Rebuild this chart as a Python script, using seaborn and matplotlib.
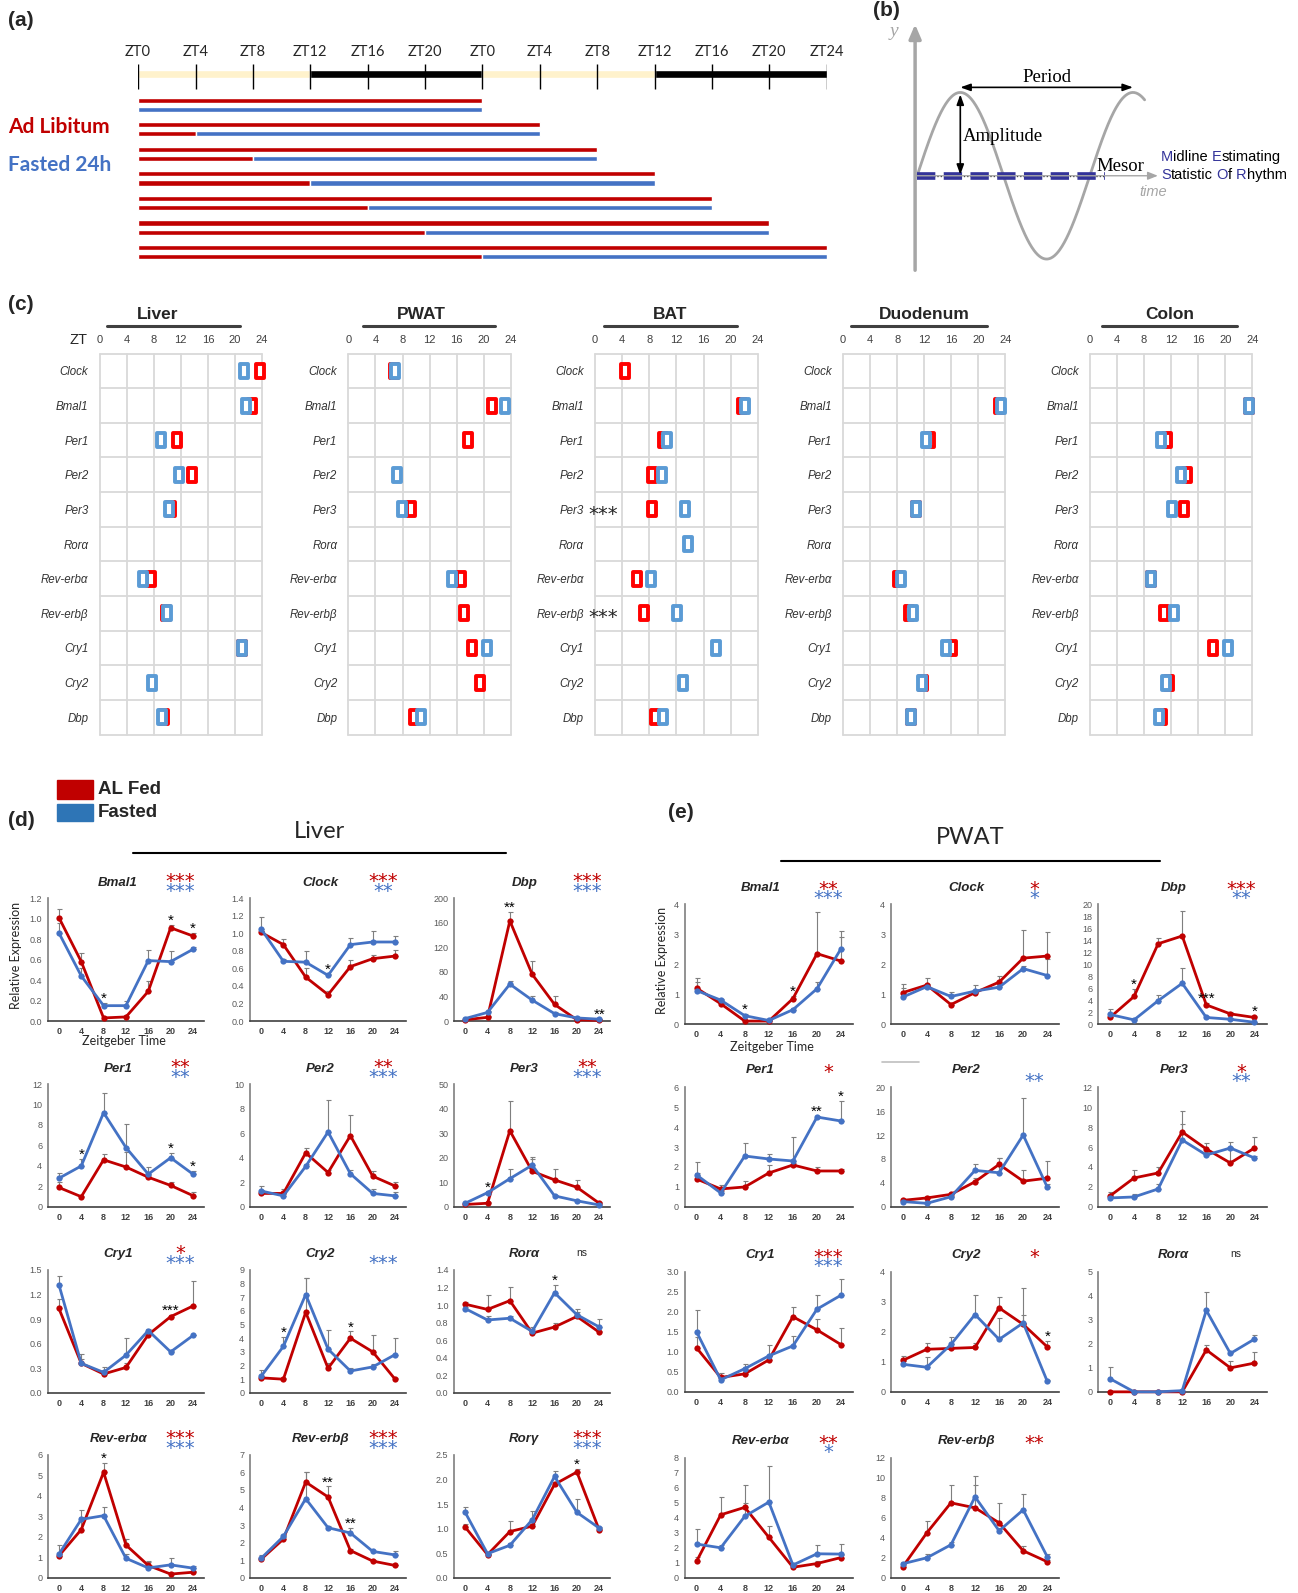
import numpy as np
import pandas as pd
import matplotlib
matplotlib.use('Agg')
import matplotlib.pyplot as plt
import seaborn as sns
from matplotlib.patches import Rectangle
from matplotlib.lines import Line2D
from matplotlib.path import Path
from matplotlib.offsetbox import TextArea, HPacker, AnnotationBbox, DrawingArea

sns.set_theme(style='white')
plt.rcParams['font.family'] = ['Liberation Sans', 'DejaVu Sans']
plt.rcParams['axes.unicode_minus'] = False

nan = np.nan
ZT = [0, 4, 8, 12, 16, 20, 24]

# ---------------- panel (a) data ----------------
A_TICK_HOURS = list(range(0, 49, 4))
A_TICK_LABELS = ['ZT0', 'ZT4', 'ZT8', 'ZT12', 'ZT16', 'ZT20', 'ZT0',
                 'ZT4', 'ZT8', 'ZT12', 'ZT16', 'ZT20', 'ZT24']
A_LD_START = [0, 12, 24, 36]
A_LD_LEN = [12, 12, 12, 12]
A_LD_DARK = [False, True, False, True]
A_FAST_START = [0, 4, 8, 12, 16, 20, 24]
A_COLLECT_END = [24, 28, 32, 36, 40, 44, 48]

# ---------------- panel (c) data (acrophase, ZT) ----------------
C_GENES = ['Clock', 'Bmal1', 'Per1', 'Per2', 'Per3', 'Rorα', 'Rev-erbα',
           'Rev-erbβ', 'Cry1', 'Cry2', 'Dbp']
C_TISSUES = ['Liver', 'PWAT', 'BAT', 'Duodenum', 'Colon']
C_LIVER_AL = [23.75, 22.5, 11.4, 13.65, 10.6, nan, 7.6, 9.85, 21.0, nan, 9.45]
C_LIVER_FAST = [21.3, 21.7, 9.1, 11.7, 10.3, nan, 6.45, 9.95, 21.1, 7.8, 9.2]
C_PWAT_AL = [6.7, 21.2, 17.6, nan, 9.2, nan, 16.7, 17.1, 18.2, 19.4, 9.75]
C_PWAT_FAST = [6.9, 23.1, nan, 7.25, 7.9, nan, 15.3, nan, 20.45, nan, 10.8]
C_BAT_AL = [4.4, 21.7, 9.95, 8.4, 8.35, nan, 6.2, 7.25, nan, nan, 8.85]
C_BAT_FAST = [nan, 22.2, 10.6, 9.8, 13.2, 13.7, 8.2, 12.15, 17.9, 12.9, 10.0]
C_DUOD_AL = [nan, 23.1, 12.9, nan, 10.8, nan, 8.1, 9.7, 16.1, 11.8, 10.0]
C_DUOD_FAST = [nan, 23.4, 12.2, nan, 10.85, nan, 8.6, 10.4, 15.2, 11.7, 10.0]
C_COLON_AL = [nan, 23.5, 11.4, 14.4, 13.9, nan, 9.1, 11.0, 18.2, 11.7, 10.6]
C_COLON_FAST = [nan, 23.5, 10.5, 13.5, 12.2, nan, 9.1, 12.5, 20.4, 11.3, 10.2]
C_BAT_FLAGS = ['', '', '', '', '***', '', '', '***', '', '', '']

# ---------------- panel (d) Liver data ----------------
LIVER_AL = {
    'Bmal1': [1.01, 0.58, 0.03, 0.04, 0.29, 0.91, 0.83],
    'Clock': [1.01, 0.87, 0.50, 0.30, 0.62, 0.71, 0.74],
    'Dbp': [2, 6, 163, 76, 27, 2, 1],
    'Per1': [1.9, 1.0, 4.6, 3.9, 2.9, 2.1, 1.1],
    'Per2': [1.1, 1.1, 4.4, 2.8, 5.8, 2.5, 1.7],
    'Per3': [1.0, 1.5, 31, 14.5, 11, 8, 1.5],
    'Cry1': [1.03, 0.36, 0.23, 0.31, 0.71, 0.93, 1.06],
    'Cry2': [1.1, 1.0, 5.9, 1.8, 4.0, 3.0, 1.0],
    'Rorα': [1.01, 0.95, 1.05, 0.68, 0.75, 0.87, 0.69],
    'Rev-erbα': [1.07, 2.35, 5.15, 1.6, 0.6, 0.18, 0.27],
    'Rev-erbβ': [1.05, 2.2, 5.45, 4.6, 1.55, 0.95, 0.7],
    'Rorγ': [1.03, 0.47, 0.94, 1.05, 1.90, 2.15, 0.97],
}
LIVER_FAST = {
    'Bmal1': [0.86, 0.44, 0.15, 0.15, 0.59, 0.58, 0.70],
    'Clock': [1.05, 0.68, 0.67, 0.52, 0.87, 0.90, 0.90],
    'Dbp': [4, 14, 60, 34, 12, 5, 3],
    'Per1': [2.8, 4.0, 9.2, 5.8, 3.2, 4.8, 3.2],
    'Per2': [1.3, 0.9, 3.3, 6.1, 2.7, 1.1, 0.9],
    'Per3': [1.5, 5.8, 11.5, 17, 4.5, 2.5, 0.8],
    'Cry1': [1.32, 0.36, 0.25, 0.46, 0.76, 0.50, 0.70],
    'Cry2': [1.2, 3.4, 7.2, 3.2, 1.6, 1.9, 2.8],
    'Rorα': [0.96, 0.83, 0.85, 0.70, 1.14, 0.89, 0.75],
    'Rev-erbα': [1.15, 2.85, 3.03, 0.95, 0.48, 0.63, 0.47],
    'Rev-erbβ': [1.1, 2.35, 4.5, 2.85, 2.55, 1.5, 1.3],
    'Rorγ': [1.33, 0.49, 0.66, 1.18, 2.06, 1.33, 1.01],
}
LIVER_AL_SEM = {
    'Bmal1': [0.08, 0.08, 0.01, 0.01, 0.10, 0.03, 0.03],
    'Clock': [0.02, 0.06, 0.10, 0.04, 0.07, 0.04, 0.07],
    'Dbp': [1, 2, 15, 22, 14, 1, 1],
    'Per1': [0.5, 0.1, 0.6, 1.5, 0.2, 0.3, 0.4],
    'Per2': [0.3, 0.4, 0.4, 0.2, 1.7, 0.4, 0.3],
    'Per3': [0.5, 0.5, 12, 5, 4.5, 3, 0.5],
    'Cry1': [0.12, 0.05, 0.02, 0.05, 0.02, 0.02, 0.31],
    'Cry2': [0.1, 0.1, 2.5, 0.4, 0.5, 1.2, 0.1],
    'Rorα': [0.03, 0.16, 0.16, 0.05, 0.05, 0.05, 0.02],
    'Rev-erbα': [0.1, 0.6, 0.45, 0.3, 0.2, 0.05, 0.05],
    'Rev-erbβ': [0.1, 0.1, 0.6, 0.6, 0.1, 0.05, 0.05],
    'Rorγ': [0.07, 0.02, 0.22, 0.05, 0.05, 0.07, 0.02],
}
LIVER_FAST_SEM = {
    'Bmal1': [0.10, 0.08, 0.03, 0.05, 0.10, 0.10, 0.02],
    'Clock': [0.14, 0.03, 0.13, 0.02, 0.07, 0.13, 0.07],
    'Dbp': [1, 2, 5, 7, 2, 1, 1],
    'Per1': [0.5, 0.7, 1.9, 2.3, 0.7, 0.5, 0.3],
    'Per2': [0.4, 0.2, 0.2, 2.6, 0.3, 0.4, 0.3],
    'Per3': [0.5, 0.5, 4, 3.5, 0.5, 0.5, 0.3],
    'Cry1': [0.10, 0.12, 0.06, 0.21, 0.02, 0.01, 0.01],
    'Cry2': [0.5, 0.7, 1.2, 1.4, 0.2, 0.2, 1.2],
    'Rorα': [0.02, 0.05, 0.03, 0.05, 0.09, 0.07, 0.09],
    'Rev-erbα': [0.45, 0.45, 0.4, 0.2, 0.3, 0.35, 0.1],
    'Rev-erbβ': [0.2, 0.1, 1.5, 0.1, 0.3, 0.05, 0.25],
    'Rorγ': [0.1, 0.03, 0.05, 0.17, 0.12, 0.28, 0.03],
}
LIVER_SIG_AL = {'Bmal1': '***', 'Clock': '***', 'Dbp': '***', 'Per1': '**', 'Per2': '**',
                'Per3': '**', 'Cry1': '*', 'Cry2': '', 'Rorα': 'ns', 'Rev-erbα': '***',
                'Rev-erbβ': '***', 'Rorγ': '***'}
LIVER_SIG_FAST = {'Bmal1': '***', 'Clock': '**', 'Dbp': '***', 'Per1': '**', 'Per2': '***',
                  'Per3': '***', 'Cry1': '***', 'Cry2': '***', 'Rorα': '', 'Rev-erbα': '***',
                  'Rev-erbβ': '***', 'Rorγ': '***'}
LIVER_POINT_SIG = {'Bmal1': {8: '*', 20: '*', 24: '*'}, 'Clock': {12: '*'},
                   'Dbp': {8: '**', 24: '**'}, 'Per1': {4: '*', 20: '*', 24: '*'},
                   'Per2': {}, 'Per3': {4: '*'}, 'Cry1': {20: '***'},
                   'Cry2': {4: '*', 16: '*'}, 'Rorα': {16: '*'}, 'Rev-erbα': {8: '*'},
                   'Rev-erbβ': {12: '**', 16: '**'}, 'Rorγ': {20: '*'}}

# ---------------- panel (e) PWAT data ----------------
PWAT_AL = {
    'Bmal1': [1.2, 0.68, 0.1, 0.1, 0.85, 2.35, 2.1],
    'Clock': [1.05, 1.3, 0.65, 1.05, 1.4, 2.2, 2.27],
    'Dbp': [1.1, 4.6, 13.4, 14.7, 3.2, 1.7, 1.1],
    'Per1': [1.4, 0.9, 1.0, 1.7, 2.1, 1.8, 1.8],
    'Per2': [1.1, 1.5, 2.1, 4.2, 7.1, 4.3, 4.8],
    'Per3': [1.1, 2.9, 3.4, 7.5, 5.8, 4.4, 5.9],
    'Cry1': [1.1, 0.36, 0.45, 0.8, 1.88, 1.55, 1.18],
    'Cry2': [1.05, 1.42, 1.45, 1.48, 2.8, 2.25, 1.5],
    'Rorα': [0.0, 0.0, 0.0, 0.0, 1.75, 1.0, 1.2],
    'Rev-erbα': [1.1, 4.2, 4.7, 2.7, 0.7, 0.95, 1.35],
    'Rev-erbβ': [1.1, 4.5, 7.5, 7.0, 5.5, 2.7, 1.6],
}
PWAT_FAST = {
    'Bmal1': [1.12, 0.80, 0.28, 0.12, 0.48, 1.18, 2.52],
    'Clock': [0.9, 1.25, 0.92, 1.1, 1.23, 1.85, 1.62],
    'Dbp': [1.6, 0.7, 3.9, 6.8, 1.1, 0.8, 0.3],
    'Per1': [1.6, 0.7, 2.55, 2.4, 2.3, 4.5, 4.3],
    'Per2': [0.9, 0.6, 1.7, 6.1, 5.7, 12.0, 3.3],
    'Per3': [0.9, 1.0, 1.8, 6.7, 5.2, 5.9, 4.9],
    'Cry1': [1.5, 0.3, 0.58, 0.9, 1.15, 2.07, 2.42],
    'Cry2': [0.92, 0.82, 1.58, 2.58, 1.75, 2.3, 0.35],
    'Rorα': [0.55, 0.0, 0.0, 0.05, 3.4, 1.6, 2.2],
    'Rev-erbα': [2.25, 2.0, 4.1, 5.05, 0.85, 1.6, 1.58],
    'Rev-erbβ': [1.4, 2.0, 3.3, 8.1, 4.7, 6.8, 2.1],
}
PWAT_AL_SEM = {
    'Bmal1': [0.35, 0.05, 0.02, 0.02, 0.1, 1.4, 0.8],
    'Clock': [0.3, 0.25, 0.05, 0.05, 0.2, 0.95, 0.8],
    'Dbp': [0.5, 1.3, 0.9, 4.1, 0.3, 0.3, 0.2],
    'Per1': [0.3, 0.2, 0.3, 0.4, 0.1, 0.2, 0.1],
    'Per2': [0.3, 0.3, 0.3, 0.7, 1.1, 1.9, 2.8],
    'Per3': [0.4, 0.8, 0.6, 2.1, 0.6, 1.6, 1.1],
    'Cry1': [0.27, 0.1, 0.05, 0.1, 0.25, 0.27, 0.42],
    'Cry2': [0.15, 0.2, 0.05, 0.15, 0.38, 0.3, 0.2],
    'Rorα': [0, 0, 0, 0, 0.2, 0.3, 0.45],
    'Rev-erbα': [0.3, 1.2, 1.5, 0.75, 0.1, 0.2, 0.2],
    'Rev-erbβ': [0.2, 1.2, 1.8, 2.3, 2.0, 0.5, 0.2],
}
PWAT_FAST_SEM = {
    'Bmal1': [0.3, 0.05, 0.05, 0.02, 0.05, 0.22, 0.58],
    'Clock': [0.3, 0.1, 0.15, 0.2, 0.1, 0.1, 0.55],
    'Dbp': [0.9, 0.2, 1.0, 2.5, 0.3, 0.2, 0.1],
    'Per1': [0.65, 0.1, 0.65, 0.25, 1.2, 0.05, 1.0],
    'Per2': [0.3, 0.2, 0.2, 1.0, 2.4, 6.2, 0.5],
    'Per3': [0.3, 0.3, 0.5, 1.6, 0.3, 0.6, 0.2],
    'Cry1': [0.55, 0.1, 0.12, 0.27, 0.25, 0.35, 0.4],
    'Cry2': [0.1, 0.35, 0.25, 0.65, 0.7, 1.15, 0.05],
    'Rorα': [0.5, 0, 0, 0, 0.75, 0.1, 0.15],
    'Rev-erbα': [1.0, 0.2, 0.9, 2.4, 0.1, 0.6, 0.7],
    'Rev-erbβ': [0.2, 0.4, 0.3, 2.1, 0.3, 1.6, 0.3],
}
PWAT_SIG_AL = {'Bmal1': '**', 'Clock': '*', 'Dbp': '***', 'Per1': '*', 'Per2': '',
               'Per3': '*', 'Cry1': '***', 'Cry2': '*', 'Rorα': 'ns', 'Rev-erbα': '**',
               'Rev-erbβ': '**'}
PWAT_SIG_FAST = {'Bmal1': '***', 'Clock': '*', 'Dbp': '**', 'Per1': '', 'Per2': '**',
                 'Per3': '**', 'Cry1': '***', 'Cry2': '', 'Rorα': '', 'Rev-erbα': '*',
                 'Rev-erbβ': ''}
PWAT_POINT_SIG = {'Bmal1': {8: '*', 16: '*'}, 'Clock': {}, 'Dbp': {4: '*', 16: '***', 24: '*'},
                  'Per1': {20: '**', 24: '*'}, 'Per2': {}, 'Per3': {}, 'Cry1': {},
                  'Cry2': {24: '*'}, 'Rorα': {}, 'Rev-erbα': {}, 'Rev-erbβ': {}}

# axis scales (top, step, decimals)
LIVER_YAXIS = {'Bmal1': (1.2, 0.2, 1), 'Clock': (1.4, 0.2, 1), 'Dbp': (200, 40, 0),
               'Per1': (12, 2, 0), 'Per2': (10, 2, 0), 'Per3': (50, 10, 0),
               'Cry1': (1.5, 0.3, 1), 'Cry2': (9, 1, 0), 'Rorα': (1.4, 0.2, 1),
               'Rev-erbα': (6, 1, 0), 'Rev-erbβ': (7, 1, 0), 'Rorγ': (2.5, 0.5, 1)}
PWAT_YAXIS = {'Bmal1': (4, 1, 0), 'Clock': (4, 1, 0), 'Dbp': (20, 2, 0),
              'Per1': (6, 1, 0), 'Per2': (20, 4, 0), 'Per3': (12, 2, 0),
              'Cry1': (3.0, 0.5, 1), 'Cry2': (4, 1, 0), 'Rorα': (5, 1, 0),
              'Rev-erbα': (8, 1, 0), 'Rev-erbβ': (12, 2, 0)}

# ---------------- styling ----------------
RED = '#C00000'
BLUE = '#4472C4'
RED_C = '#FF0000'
BLUE_C = '#5B9BD5'
GRID_C = '#D9D9D9'
MESOR_BLUE = '#333399'

W0, H0 = 1278, 1568
fig = plt.figure(figsize=(12.98, 15.93), dpi=100)


def fx(x):
    return x / W0


def fy(y):
    return 1 - y / H0


def add_box(x0, y0, x1, y1):
    return fig.add_axes([fx(x0), fy(y1), fx(x1) - fx(x0), fy(y0) - fy(y1)])


def ftext(x, y, s, **kw):
    kw.setdefault('ha', 'left')
    kw.setdefault('va', 'center')
    fig.text(fx(x), fy(y), s, **kw)


def fline(x0, x1, y, **kw):
    fig.add_artist(Line2D([fx(x0), fx(x1)], [fy(y), fy(y)], transform=fig.transFigure, **kw))


PANEL_FONT = dict(fontsize=15, fontweight='bold')
ftext(8, 20, '(a)', **PANEL_FONT)
ftext(860, 10, '(b)', **PANEL_FONT)
ftext(8, 300, '(c)', **PANEL_FONT)
ftext(8, 808, '(d)', **PANEL_FONT)
ftext(658, 800, '(e)', **PANEL_FONT)

STAR_FONT = dict(fontsize=14, family='DejaVu Sans')

# ================= panel (a) =================
ax_a = add_box(136, 40, 814, 262)
ax_a.set_xlim(0, 48)
ax_a.set_ylim(262, 40)
ax_a.axis('off')
ax_a.barh([73] * len(A_LD_START), A_LD_LEN, left=A_LD_START, height=8,
          color=['black' if d else '#FFF2CC' for d in A_LD_DARK])
ax_a.vlines(A_TICK_HOURS, 63, 88, color='black', lw=1)
for h, lab in zip(A_TICK_HOURS, A_TICK_LABELS):
    ax_a.text(h, 51, lab, ha='center', va='center', family='Lato', fontsize=10.5)
rows = np.arange(len(A_COLLECT_END))
y_red = 98.5 + 24.2 * rows
y_blue = y_red + 9
fast_len = np.array(A_COLLECT_END) - np.array(A_FAST_START)
ax_a.barh(y_red, A_COLLECT_END, left=0, height=5, color=RED)
ax_a.barh(y_blue, A_FAST_START, left=0, height=5, color=RED)
ax_a.barh(y_blue, fast_len, left=A_FAST_START, height=5, color=BLUE)
ftext(8, 125, 'Ad Libitum', color=RED, family='Lato', fontsize=15, fontweight='bold')
ftext(8, 162, 'Fasted 24h', color=BLUE, family='Lato', fontsize=15, fontweight='bold')

# ================= panel (b) schematic =================
B_X0, B_X1 = 903, 1127
B_PERIOD = 170
B_AMP = 82
B_MESOR = 173
ax_b = add_box(850, 0, 1278, 270)
ax_b.set_xlim(850, 1278)
ax_b.set_ylim(270, 0)
ax_b.axis('off')
GRAY = '#A6A6A6'
ax_b.annotate('', xy=(901, 24), xytext=(901, 266),
              arrowprops=dict(arrowstyle='-|>,head_length=0.7,head_width=0.3', color=GRAY,
                              lw=2.5, shrinkA=0, shrinkB=0))
ax_b.text(880, 31, 'y', color=GRAY, fontsize=14, fontstyle='italic',
          family='Liberation Serif', ha='center', va='center')
xs = np.linspace(B_X0, B_X1, 400)
ax_b.plot(xs, B_MESOR - B_AMP * np.sin(2 * np.pi * (xs - B_X0) / B_PERIOD), color=GRAY, lw=2)
ax_b.annotate('', xy=(1140, B_MESOR), xytext=(903, B_MESOR),
              arrowprops=dict(arrowstyle='-|>,head_length=0.5,head_width=0.2', color=GRAY,
                              lw=1, shrinkA=0, shrinkB=0))
ax_b.plot([903, 1088], [B_MESOR, B_MESOR], color='black', lw=0.9, ls=':')
ax_b.plot([903, 1088], [B_MESOR, B_MESOR], color=MESOR_BLUE, lw=5.5,
          dashes=(2.4, 1.1), solid_capstyle='butt', dash_capstyle='butt')
peak1 = B_X0 + B_PERIOD / 4
ax_b.annotate('', xy=(peak1, 86), xytext=(peak1 + B_PERIOD, 86),
              arrowprops=dict(arrowstyle='<|-|>,head_length=0.5,head_width=0.18', color='black',
                              lw=1.2, shrinkA=0, shrinkB=0))
ax_b.annotate('', xy=(peak1, B_MESOR - B_AMP + 2), xytext=(peak1, B_MESOR - 1),
              arrowprops=dict(arrowstyle='<|-|>,head_length=0.5,head_width=0.18', color='black',
                              lw=1.2, shrinkA=0, shrinkB=0))
SERIF = dict(family='Liberation Serif', fontsize=13.5, color='black')
ax_b.text(peak1 + B_PERIOD / 2, 76, 'Period', ha='center', va='center', **SERIF)
ax_b.text(948, 134, 'Amplitude', ha='left', va='center', **SERIF)
ax_b.text(1080, 164, 'Mesor', ha='left', va='center', **SERIF)
ax_b.text(1122, 189, 'time', ha='left', va='center', color=GRAY, fontsize=10.5,
          fontstyle='italic')


def colored_line(parts, x, y):
    children = []
    for t, c in parts:
        if t == ' ':
            children.append(DrawingArea(2.9, 1))
        else:
            children.append(TextArea(t, textprops=dict(color=c, fontsize=10.5)))
    box = HPacker(children=children, align='baseline', pad=0, sep=0)
    ab = AnnotationBbox(box, (x, y), xycoords='data', frameon=False, box_alignment=(0, 0.5),
                        pad=0, annotation_clip=False)
    ax_b.add_artist(ab)


colored_line([('M', MESOR_BLUE), ('idline', 'black'), (' ', None), ('E', MESOR_BLUE),
              ('stimating', 'black')], 1143, 155)
colored_line([('S', MESOR_BLUE), ('tatistic', 'black'), (' ', None), ('O', MESOR_BLUE),
              ('f', 'black'), (' ', None), ('R', MESOR_BLUE), ('hythm', 'black')], 1143, 172)

# ================= panel (c) =================
C_AL = [C_LIVER_AL, C_PWAT_AL, C_BAT_AL, C_DUOD_AL, C_COLON_AL]
C_FAST = [C_LIVER_FAST, C_PWAT_FAST, C_BAT_FAST, C_DUOD_FAST, C_COLON_FAST]
C_LEFT = [98, 343, 586, 830, 1073]
C_W = 160
C_TOP, C_BOT = 348, 723
C_TITLE_X = [155, 415, 660, 910, 1152]
C_TITLE_LINE = [(105, 236), (357, 487), (595, 726), (838, 972), (1085, 1218)]
RECT = Path([(-0.6, -1), (0.6, -1), (0.6, 1), (-0.6, 1), (-0.6, -1)],
            [Path.MOVETO, Path.LINETO, Path.LINETO, Path.LINETO, Path.CLOSEPOLY])
ftext(77, 335, 'ZT', fontsize=10.5, ha='center')
n_rows = len(C_GENES)
row_c = np.arange(n_rows) + 0.5
row_h = (C_BOT - C_TOP) / n_rows
for k, tissue in enumerate(C_TISSUES):
    x0 = C_LEFT[k]
    ax = add_box(x0, C_TOP, x0 + C_W, C_BOT)
    ax.set_xlim(0, 24)
    ax.set_ylim(n_rows, 0)
    for v in range(0, 25, 4):
        ax.axvline(v, color=GRID_C, lw=1.3, clip_on=False, zorder=1)
    for h in range(n_rows + 1):
        ax.axhline(h, color=GRID_C, lw=1.3, clip_on=False, zorder=1)
    for s in ax.spines.values():
        s.set_visible(False)
    ax.set_xticks(range(0, 25, 4))
    ax.set_xticklabels([str(v) for v in range(0, 25, 4)], fontsize=8, color='#404040')
    ax.xaxis.tick_top()
    ax.set_yticks(row_c)
    ax.set_yticklabels(C_GENES, fontsize=8.3, fontstyle='italic', color='#333333')
    ax.tick_params(length=0)
    ax.tick_params(axis='x', pad=6)
    ax.tick_params(axis='y', pad=8)
    ax.plot(C_AL[k], row_c, ls='none', marker=RECT, ms=10.5, mfc='white', mec=RED_C, mew=2.8,
            clip_on=False, zorder=3)
    ax.plot(C_FAST[k], row_c, ls='none', marker=RECT, ms=10.5, mfc='white', mec=BLUE_C,
            mew=2.8, clip_on=False, zorder=4)
    ftext(C_TITLE_X[k], 310, tissue, fontsize=12.5, fontweight='bold', ha='center')
    fline(C_TITLE_LINE[k][0], C_TITLE_LINE[k][1], 321, color='#404040', lw=2.2)
    if tissue == 'BAT':
        for i, flag in enumerate(C_BAT_FLAGS):
            if flag:
                ftext(x0 - 7, C_TOP + (i + 0.5) * row_h + 10, flag, va='baseline',
                      ha='left', **STAR_FONT)


# ================= panels (d) & (e) =================
def line_panel(ax, gene, al, fa, al_se, fa_se, yaxis, sig_al, sig_fa, marks,
               title_off, red_off, blue_off):
    ytop, ystep, dec = yaxis
    z = np.zeros(len(ZT))
    ax.errorbar(ZT, al, yerr=[z, al_se], fmt='none', ecolor='#7F7F7F', elinewidth=0.8,
                capsize=1.8, capthick=0.8, zorder=2)
    ax.errorbar(ZT, fa, yerr=[z, fa_se], fmt='none', ecolor='#7F7F7F', elinewidth=0.8,
                capsize=1.8, capthick=0.8, zorder=2)
    df = pd.DataFrame({'ZT': ZT + ZT, 'Expression': list(al) + list(fa),
                       'Group': ['AL Fed'] * len(ZT) + ['Fasted'] * len(ZT)})
    sns.lineplot(data=df, x='ZT', y='Expression', hue='Group', hue_order=['AL Fed', 'Fasted'],
                 palette={'AL Fed': RED, 'Fasted': BLUE}, marker='o', markersize=4.5,
                 markeredgewidth=0, linewidth=2.0, legend=False, errorbar=None, ax=ax,
                 zorder=3, clip_on=False)
    ax.set_xlim(-2, 26)
    ax.set_ylim(0, ytop)
    ax.set_xlabel('')
    ax.set_ylabel('')
    yt = np.arange(0, ytop + ystep * 0.5, ystep)
    ax.set_yticks(yt)
    ax.set_yticklabels([f'{v:.{dec}f}' for v in yt], fontsize=6.5, color='#595959')
    ax.set_xticks(ZT)
    ax.set_xticklabels([str(v) for v in ZT], fontsize=6.5, fontweight='bold', color='#404040')
    ax.tick_params(length=0)
    ax.tick_params(axis='x', pad=4.5)
    ax.tick_params(axis='y', pad=4)
    ax.spines['top'].set_visible(False)
    ax.spines['right'].set_visible(False)
    ax.spines['left'].set_color('#7F7F7F')
    ax.spines['left'].set_linewidth(1.2)
    ax.spines['bottom'].set_color('#404040')
    ax.spines['bottom'].set_linewidth(1.2)
    ax.annotate(gene, (0.45, 1), xycoords='axes fraction', xytext=(0, title_off),
                textcoords='offset points', ha='center', va='baseline', fontsize=9.5,
                fontweight='bold', fontstyle='italic')
    if sig_al == 'ns':
        ax.annotate('ns', (0.82, 1), xycoords='axes fraction', xytext=(0, title_off + 1),
                    textcoords='offset points', ha='center', va='baseline', fontsize=7.5)
    else:
        if sig_al:
            ax.annotate(sig_al, (0.85, 1), xycoords='axes fraction', xytext=(0, red_off),
                        textcoords='offset points', ha='center', va='baseline', color=RED,
                        **STAR_FONT)
        if sig_fa:
            ax.annotate(sig_fa, (0.85, 1), xycoords='axes fraction', xytext=(0, blue_off),
                        textcoords='offset points', ha='center', va='baseline', color=BLUE,
                        **STAR_FONT)
    for zt, s in marks.items():
        i = ZT.index(zt)
        top = max(al[i] + al_se[i], fa[i] + fa_se[i])
        ax.annotate(s, (zt, top), xytext=(0, 0), textcoords='offset points', ha='center',
                    va='baseline', fontsize=11, color='black', annotation_clip=False)


# legend for (d)/(e)
fig.add_artist(Rectangle((fx(56), fy(786)), fx(92) - fx(56), fy(768) - fy(786),
                         transform=fig.transFigure, color=RED))
fig.add_artist(Rectangle((fx(56), fy(808)), fx(92) - fx(56), fy(791) - fy(808),
                         transform=fig.transFigure, color='#2E75B6'))
ftext(96, 777, 'AL Fed', fontsize=13.5, fontweight='bold')
ftext(96, 800, 'Fasted', fontsize=13.5, fontweight='bold')

# (d) Liver
ftext(315, 818, 'Liver', family='Lato', fontsize=17, ha='center')
fline(131, 498, 840, color='black', lw=1.5)
D_LAYOUT = [['Bmal1', 'Clock', 'Dbp'], ['Per1', 'Per2', 'Per3'],
            ['Cry1', 'Cry2', 'Rorα'], ['Rev-erbα', 'Rev-erbβ', 'Rorγ']]
D_COL_X = [47, 246, 447]
D_W = 154
D_ROW_TOP = [884, 1067, 1250, 1432]
D_H = 121
for r, row in enumerate(D_LAYOUT):
    for c, g in enumerate(row):
        ax = add_box(D_COL_X[c], D_ROW_TOP[r], D_COL_X[c] + D_W, D_ROW_TOP[r] + D_H)
        line_panel(ax, g, LIVER_AL[g], LIVER_FAST[g], LIVER_AL_SEM[g], LIVER_FAST_SEM[g],
                   LIVER_YAXIS[g], LIVER_SIG_AL[g], LIVER_SIG_FAST[g], LIVER_POINT_SIG[g],
                   title_off=9.0, red_off=7.8, blue_off=0.8)
ftext(122, 1025, 'Zeitgeber Time', family='Lato', fontsize=9, ha='center')
ftext(16, 940, 'Relative Expression', family='Lato', fontsize=9, ha='center', rotation=90)

# (e) PWAT
ftext(955, 824, 'PWAT', family='Lato', fontsize=17, ha='center')
fline(769, 1142, 847, color='black', lw=1.5)
fline(868, 905, 1045, color='#BFBFBF', lw=1.2)
E_LAYOUT = [['Bmal1', 'Clock', 'Dbp'], ['Per1', 'Per2', 'Per3'],
            ['Cry1', 'Cry2', 'Rorα'], ['Rev-erbα', 'Rev-erbβ']]
E_COL_X = [674, 877, 1081]
E_W = 166
E_ROW_TOP = [890, 1070, 1252, 1435]
E_H = 118
for r, row in enumerate(E_LAYOUT):
    for c, g in enumerate(row):
        ax = add_box(E_COL_X[c], E_ROW_TOP[r], E_COL_X[c] + E_W, E_ROW_TOP[r] + E_H)
        line_panel(ax, g, PWAT_AL[g], PWAT_FAST[g], PWAT_AL_SEM[g], PWAT_FAST_SEM[g],
                   PWAT_YAXIS[g], PWAT_SIG_AL[g], PWAT_SIG_FAST[g], PWAT_POINT_SIG[g],
                   title_off=9.8, red_off=6.4, blue_off=-0.2)
ftext(760, 1031, 'Zeitgeber Time', family='Lato', fontsize=9, ha='center')
ftext(652, 945, 'Relative Expression', family='Lato', fontsize=9, ha='center', rotation=90)

fig.savefig('out.png', dpi=100, facecolor='white')
